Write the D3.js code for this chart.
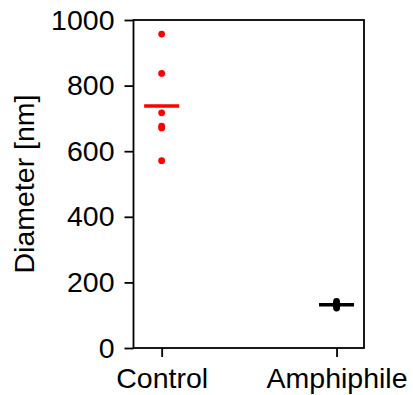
<!DOCTYPE html>
<html>
<head>
<meta charset="utf-8">
<script src="https://cdn.jsdelivr.net/npm/d3@7"></script>
<style>
  body { margin: 0; background: #fff; }
  text { font-family: "Liberation Sans", Arial, sans-serif; }
</style>
</head>
<body>
<div id="viz"></div>
<script>
// data

const groups = ["Control", "Amphiphile"];
const groupColors = ["#ff0000", "#000000"];
const controlValues = [957, 837, 717, 676, 671, 571];
const amphiphileValues = [142, 137, 132, 127, 122];
const yTicks = [0, 200, 400, 600, 800, 1000];

const series = [
  { group: groups[0], color: groupColors[0], values: controlValues },
  { group: groups[1], color: groupColors[1], values: amphiphileValues }
];

// dimensions

const dms = {
  width: 413,
  height: 395,
  margins: { top: 20, bottom: 47, left: 133.5, right: 49 }
};
dms.innerWidth = dms.width - dms.margins.left - dms.margins.right;
dms.innerHeight = dms.height - dms.margins.top - dms.margins.bottom;

const fontSize = "28.5px";

const svg = d3.select("#viz")
  .append("svg")
    .attr("width", dms.width)
    .attr("height", dms.height);

const g = svg.append("g")
  .attr("transform", `translate(${dms.margins.left},${dms.margins.top})`);

// scales

const xScale = d3.scaleLinear()
  .domain([-0.161, 1.157])
  .range([0, dms.innerWidth]);

const yScale = d3.scaleLinear()
  .domain([0, 1000])
  .range([dms.innerHeight, 0]);

// marks

const groupG = g.selectAll(".grp")
  .data(series)
  .enter()
  .append("g")
    .attr("class", "grp");

groupG.selectAll("circle")
  .data(d => d.values.map(v => ({ v, color: d.color, i: series.indexOf(d) })))
  .enter()
  .append("circle")
    .attr("cx", d => xScale(d.i))
    .attr("cy", d => yScale(d.v))
    .attr("r", 3.4)
    .attr("fill", d => d.color);

groupG.append("line")
  .attr("x1", (d, i) => xScale(i) - 17.5)
  .attr("x2", (d, i) => xScale(i) + 17.5)
  .attr("y1", d => yScale(d3.mean(d.values)))
  .attr("y2", d => yScale(d3.mean(d.values)))
  .attr("stroke", d => d.color)
  .attr("stroke-width", 3.5);

// axes

const yAxis = d3.axisLeft(yScale)
  .tickValues(yTicks)
  .tickFormat(d3.format("d"))
  .tickSize(9)
  .tickPadding(10);

const yAxisG = g.append("g").call(yAxis);

const xAxis = d3.axisBottom(xScale)
  .tickValues([0, 1])
  .tickFormat(i => groups[i])
  .tickSize(9)
  .tickPadding(11);

const xAxisG = g.append("g")
  .attr("transform", `translate(0,${dms.innerHeight})`)
  .call(xAxis);

[yAxisG, xAxisG].forEach(ax => {
  ax.select(".domain").remove();
  ax.selectAll(".tick line").attr("stroke", "#000").attr("stroke-width", 1.8);
  ax.selectAll(".tick text")
    .attr("fill", "#000")
    .style("font-size", fontSize)
    .style("font-family", "'Liberation Sans', Arial, sans-serif");
});

// frame

g.append("rect")
  .attr("width", dms.innerWidth)
  .attr("height", dms.innerHeight)
  .attr("fill", "none")
  .attr("stroke", "#000")
  .attr("stroke-width", 1.8);

// y label

svg.append("text")
  .attr("transform", `translate(34,${dms.margins.top + dms.innerHeight / 2}) rotate(-90)`)
  .attr("text-anchor", "middle")
  .style("font-size", fontSize)
  .text("Diameter [nm]");
</script>
</body>
</html>
